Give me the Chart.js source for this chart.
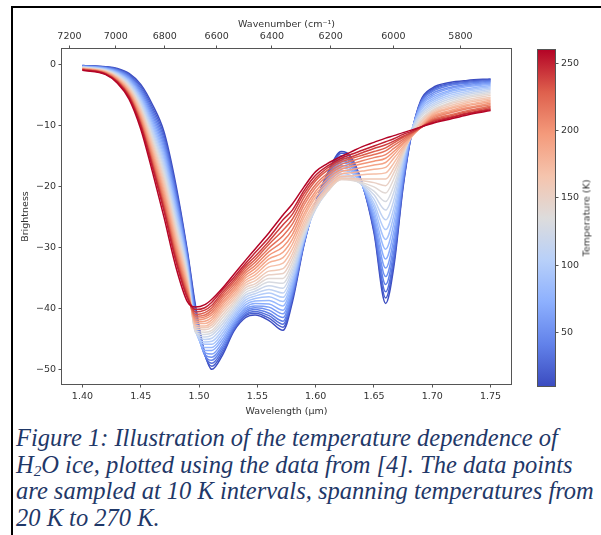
<!DOCTYPE html>
<html><head><meta charset="utf-8">
<script src="https://cdn.jsdelivr.net/npm/chart.js@4.4.0/dist/chart.umd.min.js"></script>
<style>
html,body{margin:0;padding:0;background:#fff;}
body{width:601px;height:535px;position:relative;overflow:hidden;}
#main{position:absolute;left:0;top:0;width:530px;height:420px;}
#cbar{position:absolute;left:530px;top:0;width:71px;height:420px;}
.frameTop{position:absolute;left:11px;top:6px;width:590px;height:2px;background:#000;}
.frameLeft{position:absolute;left:11px;top:6px;width:2px;height:529px;background:#000;}
#cbtitle{position:absolute;left:586px;top:218px;transform:translate(-50%,-50%) rotate(-90deg);font-family:'DejaVu Sans',sans-serif;font-size:9.5px;color:#333;white-space:nowrap;}
#caption{position:absolute;left:16px;top:425px;font-family:'Liberation Serif','Times New Roman',serif;font-style:italic;font-size:24.5px;line-height:26.7px;color:#1f3868;white-space:nowrap;}
#caption .sub{font-size:0.62em;position:relative;top:0.22em;line-height:0;}
</style></head>
<body>
<canvas id="main" width="530" height="420"></canvas>
<canvas id="cbar" width="71" height="420"></canvas>
<div class="frameTop"></div><div class="frameLeft"></div>
<div id="cbtitle">Temperature (K)</div>
<div id="caption">Figure 1: Illustration of the temperature dependence of<br>H<span class="sub">2</span>O ice, plotted using the data from [4]. The data points<br>are sampled at 10 K intervals, spanning temperatures from<br>20 K to 270 K.</div>
<script>
// ---------- data ----------
const wavelengths = [1.400,1.420,1.430,1.440,1.450,1.460,1.470,1.480,1.490,1.497,1.505,1.511,1.520,1.530,1.540,1.548,1.560,1.572,1.580,1.590,1.600,1.610,1.622,1.630,1.640,1.650,1.660,1.667,1.675,1.682,1.690,1.700,1.715,1.730,1.750];
const temperatures = [20,30,40,50,60,70,80,90,100,110,120,130,140,150,160,170,180,190,200,210,220,230,240,250,260,270];

const T20  = [-0.10,-0.30,-0.60,-1.40,-3.20,-6.50,-11.0,-19.5,-30.5,-39.5,-47.3,-49.9,-47.6,-43.6,-41.4,-41.0,-41.9,-43.5,-38.9,-29.5,-22.5,-17.8,-14.2,-15.0,-19.5,-27.5,-39.1,-33.1,-20.0,-11.6,-5.9,-3.8,-2.9,-2.55,-2.3];
const T30  = [-0.12,-0.35,-0.70,-1.57,-3.49,-6.94,-11.56,-20.04,-30.83,-40.0,-47.5,-49.4,-47.2,-43.4,-41.1,-40.7,-41.5,-43.0,-38.4,-29.3,-22.5,-18.1,-14.5,-15.2,-19.5,-27.1,-38.2,-32.4,-19.7,-11.5,-6.1,-4.0,-3.1,-2.7,-2.4];
const T40  = [-0.15,-0.40,-0.79,-1.74,-3.78,-7.38,-12.12,-20.58,-31.16,-40.5,-47.6,-48.9,-46.8,-43.2,-40.9,-40.4,-41.1,-42.5,-38.1,-29.3,-22.6,-18.4,-14.9,-15.6,-19.6,-26.7,-37.2,-31.6,-19.4,-11.5,-6.2,-4.2,-3.2,-2.85,-2.55];
const T50  = [-0.18,-0.46,-0.89,-1.90,-4.08,-7.82,-12.68,-21.12,-31.5,-41.0,-47.6,-48.4,-46.4,-42.9,-40.6,-40.1,-40.7,-42.0,-37.7,-29.2,-22.8,-18.6,-15.3,-15.9,-19.7,-26.3,-36.0,-30.6,-18.9,-11.4,-6.3,-4.4,-3.4,-3.0,-2.7];
const T60  = [-0.21,-0.51,-0.98,-2.07,-4.37,-8.26,-13.24,-21.66,-31.83,-41.5,-47.5,-47.9,-46.0,-42.6,-40.3,-39.8,-40.2,-41.4,-37.3,-29.1,-22.9,-18.9,-15.7,-16.3,-19.7,-25.8,-34.7,-29.6,-18.5,-11.3,-6.5,-4.7,-3.7,-3.2,-2.85];
const T70  = [-0.24,-0.56,-1.08,-2.24,-4.66,-8.70,-13.8,-22.2,-32.16,-42.0,-47.2,-47.4,-45.5,-42.3,-40.0,-39.5,-39.7,-40.8,-36.9,-28.9,-23.0,-19.2,-16.1,-16.6,-19.7,-25.2,-33.3,-28.5,-18.0,-11.2,-6.7,-5.0,-3.9,-3.4,-3.0];
const T80  = [-0.27,-0.61,-1.18,-2.41,-4.95,-9.14,-14.36,-22.74,-32.49,-42.4,-46.8,-46.8,-45.0,-42.0,-39.7,-39.1,-39.2,-40.2,-36.4,-28.8,-23.1,-19.5,-16.5,-17.0,-19.7,-24.6,-31.8,-27.3,-17.5,-11.1,-6.9,-5.3,-4.2,-3.6,-3.2];
const T90  = [-0.30,-0.66,-1.27,-2.58,-5.24,-9.58,-14.92,-23.28,-32.82,-42.8,-46.3,-46.3,-44.5,-41.6,-39.3,-38.7,-38.6,-39.5,-35.9,-28.7,-23.2,-19.7,-16.9,-17.3,-19.7,-24.0,-30.2,-26.0,-16.9,-11.0,-7.2,-5.6,-4.4,-3.9,-3.4];
const T100 = [-0.33,-0.72,-1.37,-2.74,-5.54,-10.02,-15.48,-23.82,-33.16,-43.2,-45.8,-45.8,-44.0,-41.2,-38.9,-38.3,-38.0,-38.8,-35.4,-28.5,-23.3,-20.0,-17.3,-17.6,-19.7,-23.3,-28.6,-24.7,-16.3,-10.9,-7.5,-5.9,-4.7,-4.1,-3.6];
const T110 = [-0.36,-0.77,-1.46,-2.91,-5.83,-10.46,-16.04,-24.36,-33.49,-43.5,-45.4,-45.3,-43.5,-40.8,-38.5,-37.9,-37.4,-38.1,-34.9,-28.4,-23.5,-20.3,-17.8,-18.1,-19.7,-22.7,-27.0,-23.5,-15.8,-10.8,-7.8,-6.2,-5.0,-4.35,-3.8];
const T120 = [-0.39,-0.82,-1.56,-3.08,-6.12,-10.9,-16.6,-24.9,-33.82,-43.7,-45.0,-44.8,-43.0,-40.4,-38.1,-37.5,-36.8,-37.4,-34.3,-28.2,-23.6,-20.6,-18.2,-18.4,-19.7,-22.0,-25.4,-22.2,-15.2,-10.7,-8.0,-6.5,-5.3,-4.6,-4.0];
const T130 = [-0.42,-0.87,-1.66,-3.25,-6.41,-11.34,-17.16,-25.44,-34.15,-43.8,-44.6,-44.3,-42.5,-40.0,-37.7,-37.1,-36.2,-36.6,-33.7,-27.9,-23.6,-20.8,-18.5,-18.7,-19.6,-21.3,-23.8,-20.9,-15.1,-11.1,-8.3,-6.8,-5.6,-4.85,-4.25];
const T140 = [-0.45,-0.92,-1.75,-3.42,-6.70,-11.78,-17.72,-25.98,-34.48,-43.8,-44.2,-43.9,-42.0,-39.6,-37.3,-36.7,-35.6,-35.8,-33.1,-27.6,-23.5,-20.8,-18.7,-18.8,-19.5,-20.7,-22.4,-19.8,-14.9,-11.4,-8.6,-7.1,-5.9,-5.15,-4.5];
const T150 = [-0.48,-0.98,-1.85,-3.58,-7.00,-12.22,-18.28,-26.52,-34.82,-43.6,-43.8,-43.5,-41.5,-39.2,-36.9,-36.3,-35.0,-35.0,-32.4,-27.2,-23.3,-20.8,-18.8,-18.9,-19.3,-20.0,-21.0,-18.7,-14.6,-11.6,-9.0,-7.4,-6.2,-5.4,-4.75];
const T160 = [-0.51,-1.03,-1.94,-3.75,-7.29,-12.66,-18.84,-27.06,-35.15,-43.3,-43.4,-43.0,-41.0,-38.8,-36.5,-35.9,-34.4,-34.2,-31.7,-26.8,-23.1,-20.7,-18.8,-18.8,-19.0,-19.3,-19.8,-17.7,-14.3,-11.8,-9.3,-7.6,-6.4,-5.7,-5.0];
const T170 = [-0.54,-1.08,-2.04,-3.92,-7.58,-13.1,-19.4,-27.6,-35.48,-43.0,-43.1,-42.6,-40.5,-38.4,-36.1,-35.4,-33.8,-33.4,-31.0,-26.3,-22.7,-20.5,-18.6,-18.6,-18.7,-18.7,-18.7,-16.9,-14.0,-11.8,-9.5,-7.8,-6.7,-5.95,-5.3];
const T180 = [-0.57,-1.13,-2.14,-4.09,-7.87,-13.54,-19.96,-28.14,-35.81,-42.7,-42.8,-42.2,-40.1,-38.0,-35.7,-34.9,-33.1,-32.5,-30.2,-25.7,-22.3,-20.1,-18.3,-18.2,-18.0,-17.9,-17.7,-16.1,-13.7,-11.9,-9.8,-8.0,-7.0,-6.2,-5.55];
const T190 = [-0.60,-1.18,-2.23,-4.26,-8.16,-13.98,-20.52,-28.68,-36.14,-42.4,-42.4,-41.8,-39.7,-37.6,-35.3,-34.4,-32.4,-31.6,-29.4,-25.0,-21.7,-19.6,-17.9,-17.7,-17.4,-17.1,-16.8,-15.3,-13.4,-11.8,-10.0,-8.2,-7.2,-6.5,-5.8];
const T200 = [-0.63,-1.24,-2.33,-4.42,-8.46,-14.42,-21.08,-29.22,-36.48,-42.1,-42.0,-41.4,-39.3,-37.2,-34.9,-33.9,-31.8,-30.7,-28.6,-24.4,-21.2,-19.2,-17.5,-17.2,-16.8,-16.4,-16.0,-14.7,-13.0,-11.7,-10.2,-8.4,-7.5,-6.7,-6.05];
const T210 = [-0.66,-1.29,-2.42,-4.59,-8.75,-14.86,-21.64,-29.76,-36.81,-41.8,-41.6,-41.0,-38.9,-36.8,-34.5,-33.4,-31.2,-29.8,-27.8,-23.7,-20.7,-18.7,-17.1,-16.7,-16.2,-15.8,-15.3,-14.2,-12.8,-11.7,-10.3,-8.6,-7.7,-7.0,-6.3];
const T220 = [-0.69,-1.34,-2.52,-4.76,-9.04,-15.3,-22.2,-30.3,-37.14,-41.5,-41.3,-40.6,-38.5,-36.4,-34.1,-32.9,-30.6,-28.9,-27.0,-23.0,-20.1,-18.2,-16.7,-16.3,-15.7,-15.2,-14.7,-13.7,-12.5,-11.5,-10.3,-8.8,-7.9,-7.2,-6.55];
const T230 = [-0.72,-1.39,-2.62,-4.93,-9.33,-15.74,-22.76,-30.84,-37.47,-41.2,-41.0,-40.2,-38.1,-36.0,-33.7,-32.4,-30.0,-28.0,-26.1,-22.4,-19.6,-17.8,-16.3,-15.8,-15.2,-14.7,-14.1,-13.2,-12.2,-11.3,-10.3,-9.0,-8.2,-7.5,-6.8];
const T240 = [-0.75,-1.43,-2.69,-5.05,-9.55,-16.07,-23.18,-31.25,-37.72,-40.9,-40.6,-39.8,-37.7,-35.6,-33.3,-31.9,-29.4,-27.1,-25.3,-21.7,-19.0,-17.3,-15.9,-15.4,-14.8,-14.2,-13.6,-12.8,-11.9,-11.2,-10.3,-9.15,-8.4,-7.7,-7.0];
const T250 = [-0.78,-1.47,-2.76,-5.18,-9.77,-16.4,-23.6,-31.65,-37.97,-40.5,-40.2,-39.4,-37.3,-35.2,-32.9,-31.4,-28.9,-26.2,-24.5,-21.1,-18.6,-16.9,-15.6,-15.1,-14.4,-13.7,-13.1,-12.5,-11.7,-11.1,-10.3,-9.3,-8.6,-7.9,-7.2];
const T260 = [-0.82,-1.51,-2.83,-5.31,-9.99,-16.73,-24.02,-32.06,-38.22,-40.1,-39.8,-38.9,-36.9,-34.8,-32.5,-30.8,-28.3,-25.4,-23.8,-20.6,-18.1,-16.6,-15.3,-14.7,-14.0,-13.3,-12.6,-12.1,-11.4,-10.9,-10.2,-9.45,-8.7,-8.0,-7.35];
const T270 = [-0.90,-1.60,-3.00,-5.60,-10.5,-17.5,-25.0,-33.0,-38.8,-39.7,-39.3,-38.4,-36.6,-34.3,-32.0,-30.2,-27.5,-24.6,-22.8,-20.0,-17.5,-16.2,-15.0,-14.3,-13.4,-12.7,-12.0,-11.6,-11.1,-10.7,-10.2,-9.6,-8.9,-8.2,-7.5];

const series = [T20,T30,T40,T50,T60,T70,T80,T90,T100,T110,T120,T130,T140,T150,T160,T170,T180,T190,T200,T210,T220,T230,T240,T250,T260,T270];

const wavelengthTicks = [1.40,1.45,1.50,1.55,1.60,1.65,1.70,1.75];
const wavenumberTicks = [7200,7000,6800,6600,6400,6200,6000,5800];
const brightnessTicks = [0,-10,-20,-30,-40,-50];
const colorbarTicks = [50,100,150,200,250];
const colorbarRange = [10,260];

// ---------- colormap (coolwarm) ----------
const cwStops = [
  [0.000,[59,76,192]],[0.125,[98,130,234]],[0.250,[141,176,254]],[0.375,[184,208,249]],
  [0.500,[221,220,220]],[0.625,[245,196,173]],[0.750,[244,154,123]],[0.875,[222,96,77]],[1.000,[180,4,38]]
];
function coolwarm(t){
  t = Math.max(0, Math.min(1, t));
  for (let i = 0; i < cwStops.length - 1; i++) {
    const [t0,c0] = cwStops[i], [t1,c1] = cwStops[i+1];
    if (t <= t1) {
      const f = (t - t0) / (t1 - t0);
      const c = c0.map((v,j) => Math.round(v + (c1[j]-v)*f));
      return `rgb(${c[0]},${c[1]},${c[2]})`;
    }
  }
  return 'rgb(180,4,38)';
}

Chart.defaults.font.family = "'DejaVu Sans', sans-serif";
Chart.defaults.font.size = 9.5;
Chart.defaults.color = '#333';

const datasets = series.map((vals, k) => ({
  label: temperatures[k] + ' K',
  data: vals.map((v, i) => ({x: wavelengths[i], y: v})),
  borderColor: coolwarm(k / (series.length - 1)),
  borderWidth: 1.5,
  pointRadius: 0,
  fill: false,
  cubicInterpolationMode: 'monotone',
  order: series.length - 1 - k
}));

const boxPlugin = {
  id: 'box',
  afterDatasetsDraw(chart) {
    const {ctx, chartArea: a} = chart;
    ctx.save();
    ctx.strokeStyle = '#555';
    ctx.lineWidth = 1;
    ctx.strokeRect(Math.round(a.left) - 0.5, Math.round(a.top) - 0.5, Math.round(a.right - a.left) + 1, Math.round(a.bottom - a.top) + 1);
    ctx.restore();
  }
};

const gridCommon = {drawOnChartArea: false, drawTicks: true, tickLength: 3.5, tickColor: '#555', tickWidth: 1};
const X_MIN = 1.3825, X_MAX = 1.7675;

new Chart(document.getElementById('main'), {
  type: 'line',
  data: {datasets},
  options: {
    responsive: false, animation: false, devicePixelRatio: 1, events: [],
    parsing: false,
    layout: {padding: {left: 0, top: 0, right: 19, bottom: 0}},
    plugins: {legend: {display: false}, tooltip: {enabled: false}},
    scales: {
      x: {
        type: 'linear', position: 'bottom', min: X_MIN, max: X_MAX,
        afterBuildTicks: s => { s.ticks = wavelengthTicks.map(v => ({value: v})); },
        afterFit: s => { s.height = 36; },
        ticks: {autoSkip: false, maxRotation: 0, padding: 3.5, callback: v => Number(v).toFixed(2)},
        grid: gridCommon,
        border: {display: false},
        title: {display: true, text: 'Wavelength (µm)', padding: {top: 0, bottom: 2.6}}
      },
      x2: {
        type: 'linear', axis: 'x', position: 'top', min: X_MIN, max: X_MAX,
        afterBuildTicks: s => { s.ticks = wavenumberTicks.map(n => ({value: 1e4 / n})); },
        afterFit: s => { s.height = 49; },
        ticks: {autoSkip: false, maxRotation: 0, padding: 2.8, callback: v => String(Math.round(1e4 / v))},
        grid: gridCommon,
        border: {display: false},
        title: {display: true, text: 'Wavenumber (cm⁻¹)', padding: {top: 18.5, bottom: 0}}
      },
      y: {
        type: 'linear', position: 'left', min: -52.3, max: 2.6,
        afterBuildTicks: s => { s.ticks = brightnessTicks.map(v => ({value: v})); },
        afterFit: s => { s.width = 62; },
        ticks: {padding: 2.5, callback: v => (v < 0 ? '\u2212' + Math.abs(v) : String(v))},
        grid: gridCommon,
        border: {display: false},
        title: {display: true, text: 'Brightness', padding: {top: 19.5, bottom: 0}}
      }
    }
  },
  plugins: [boxPlugin]
});

const gradientPlugin = {
  id: 'cbgrad',
  beforeDatasetsDraw(chart) {
    const {ctx, chartArea: a} = chart;
    const g = ctx.createLinearGradient(0, a.bottom, 0, a.top);
    cwStops.forEach(([t, c]) => g.addColorStop(t, `rgb(${c[0]},${c[1]},${c[2]})`));
    ctx.save();
    ctx.fillStyle = g;
    ctx.fillRect(a.left, a.top, a.right - a.left, a.bottom - a.top);
    ctx.strokeStyle = '#555';
    ctx.lineWidth = 1;
    ctx.strokeRect(Math.round(a.left) - 0.5, Math.round(a.top) - 0.5, Math.round(a.right - a.left) + 1, Math.round(a.bottom - a.top) + 1);
    ctx.restore();
  }
};

new Chart(document.getElementById('cbar'), {
  type: 'line',
  data: {datasets: []},
  options: {
    responsive: false, animation: false, devicePixelRatio: 1, events: [],
    layout: {padding: {left: 8, top: 50, right: 0, bottom: 34}},
    plugins: {legend: {display: false}, tooltip: {enabled: false}},
    scales: {
      x: {display: false},
      y: {
        type: 'linear', position: 'right', min: colorbarRange[0], max: colorbarRange[1],
        afterBuildTicks: s => { s.ticks = colorbarTicks.map(v => ({value: v})); },
        afterFit: s => { s.width = 46; },
        ticks: {padding: 2.5, callback: v => String(v)},
        grid: gridCommon,
        border: {display: false}
      }
    }
  },
  plugins: [gradientPlugin]
});
</script>
</body></html>
